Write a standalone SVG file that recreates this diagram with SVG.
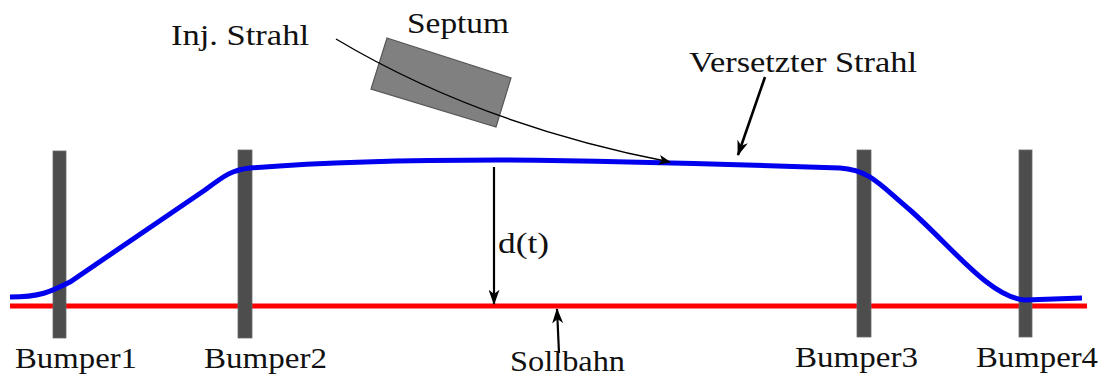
<svg xmlns="http://www.w3.org/2000/svg" width="1105" height="376" viewBox="0 0 1105 376">
<style>
.bump{fill:#4d4d4d;stroke:#6a6a6a;stroke-width:0.8}
.conn{fill:none;stroke:#000}
</style>
<defs>
<marker id="ah" viewBox="0 0 12 10" refX="11" refY="5" markerWidth="12" markerHeight="10" markerUnits="userSpaceOnUse" orient="auto">
<path d="M0,0 L12,5 L0,10 L3,5 Z" fill="#000"/>
</marker>
<marker id="ahs" viewBox="0 0 14 10" refX="13" refY="5" markerWidth="16" markerHeight="11" markerUnits="userSpaceOnUse" orient="auto">
<path d="M0,0 L14,5 L0,10 L4,5 Z" fill="#000"/>
</marker>
</defs>
<g id="sollbahn-line"><line x1="10" y1="306" x2="1087" y2="306" stroke="#ff0000" stroke-width="5"/></g>
<g id="bumper1"><rect class="bump" x="53" y="151" width="13" height="187"/><text font-family="Liberation Serif, serif" font-size="30" fill="#111" x="15" y="368" textLength="122" lengthAdjust="spacingAndGlyphs">Bumper1</text></g>
<g id="bumper2"><rect class="bump" x="238" y="150" width="14" height="188"/><text font-family="Liberation Serif, serif" font-size="30" fill="#111" x="204" y="368" textLength="123" lengthAdjust="spacingAndGlyphs">Bumper2</text></g>
<g id="bumper3"><rect class="bump" x="857" y="150" width="14" height="187"/><text font-family="Liberation Serif, serif" font-size="30" fill="#111" x="795" y="367" textLength="123" lengthAdjust="spacingAndGlyphs">Bumper3</text></g>
<g id="bumper4"><rect class="bump" x="1019" y="150" width="13" height="187"/><text font-family="Liberation Serif, serif" font-size="30" fill="#111" x="976" y="367" textLength="122" lengthAdjust="spacingAndGlyphs">Bumper4</text></g>
<g id="septum"><polygon points="387,38 511,78 496,127 371,89" fill="#808080" stroke="#555" stroke-width="1.2"/><text font-family="Liberation Serif, serif" font-size="30" fill="#111" x="407" y="33" textLength="102" lengthAdjust="spacingAndGlyphs">Septum</text></g>
<g id="beam"><path d="M10,297 C40,297 50,292 70,282 L205,190 C225,175 232,170 250,168 C350,160 450,160 500,160 C600,161 750,165 840,168 C870,170 880,185 910,210 C950,245 990,298 1025,300 L1082,298" fill="none" stroke="#0000ee" stroke-width="5"/></g>
<g id="labels" font-family="Liberation Serif, serif" font-size="30" fill="#111">
<text x="171" y="45" textLength="138" lengthAdjust="spacingAndGlyphs">Inj. Strahl</text>
<text x="689" y="72" textLength="228" lengthAdjust="spacingAndGlyphs">Versetzter Strahl</text>
<text x="498" y="253" textLength="51" lengthAdjust="spacingAndGlyphs">d(t)</text>
<text x="510" y="371" textLength="115" lengthAdjust="spacingAndGlyphs">Sollbahn</text>
</g>
<g id="connectors">
<path class="conn" d="M336,39 Q480,125 670,162" stroke-width="1.4" marker-end="url(#ah)"/>
<line class="conn" x1="765" y1="77" x2="738" y2="155" stroke-width="2.6" marker-end="url(#ahs)"/>
<line class="conn" x1="494" y1="167" x2="494" y2="304" stroke-width="2.2" marker-end="url(#ahs)"/>
<line class="conn" x1="559" y1="353" x2="557" y2="309" stroke-width="2.2" marker-end="url(#ahs)"/>
</g>
</svg>
